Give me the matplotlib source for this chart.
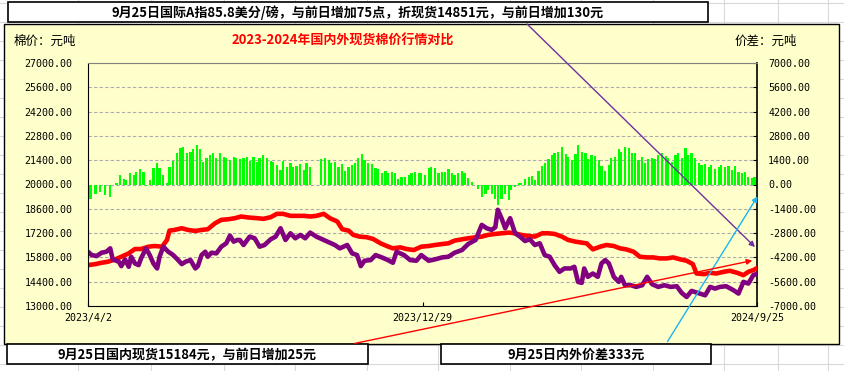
import numpy as np
import pandas as pd
import matplotlib
matplotlib.use("Agg")
import matplotlib.pyplot as plt
from matplotlib.patches import Rectangle, FancyArrowPatch
from matplotlib.lines import Line2D

CJK = ['Noto Sans CJK SC', 'DejaVu Sans']
NUM = 'DejaVu Sans Mono'

START = pd.Timestamp('2023-04-02')

# ---------------- data (day offsets from 2023/4/2) ----------------
# 国内现货 (元/吨)
domestic_days = [0, 6, 11, 16, 22, 27, 33, 38, 43, 49, 54, 60, 64, 66, 70, 76, 81, 87, 92, 97,
                 103, 108, 114, 119, 124, 130,
                 137, 142, 148, 153, 158, 164, 169, 175, 180, 185, 191, 196, 202, 206, 211, 215, 220, 226,
                 231, 237, 242, 247, 253, 258, 264,
                 270, 276, 281, 287, 292, 297, 303, 308, 314, 319, 324, 330, 335, 341, 346, 351, 357, 362,
                 368, 373, 378, 384, 389, 395, 400,
                 404, 409, 415, 420, 426, 431, 436, 442, 447, 453, 458, 463, 469, 474, 480, 485, 490, 493,
                 499, 504, 509, 515, 520, 526, 531, 535, 539, 542]
domestic = [15356, 15414, 15491, 15549, 15684, 15839, 16032, 16283, 16283, 16418, 16457, 16418, 16804, 17345,
            17383, 17480, 17383, 17325, 17383, 17422, 17770, 17963, 18001, 18059, 18156, 18098,
            18059, 18021, 18117, 18310, 18310, 18194, 18194, 18194, 18156, 18194, 18310, 18059, 17866, 17422,
            17345, 17094, 16997, 16959, 16862, 16611, 16457, 16321, 16379, 16283, 16225,
            16418, 16457, 16514, 16572, 16611, 16766, 16843, 16901, 16959, 16997, 17094, 17152, 17190, 17229,
            17190, 17094, 17036, 16997, 17190, 17190, 17152, 16997, 16804, 16708, 16650,
            16611, 16263, 16418, 16514, 16457, 16321, 16263, 16128, 15839, 15800, 15800, 15742, 15742, 15800,
            15684, 15607, 15414, 14873, 14835, 14912, 14873, 14970, 15028, 14912, 14777, 14970, 15066, 15184]

# 国际A指折现货 (元/吨)
intl_days = [0, 3, 7, 11, 15, 18, 20, 25, 27, 30, 33, 35, 38, 41, 43, 47, 50, 53, 56, 58,
             61, 65, 69, 73, 76, 79, 83, 87, 89, 92, 95, 97, 100, 104, 108, 112, 115, 118, 121, 123, 126,
             131, 135, 139, 143, 148, 152, 156, 160, 164, 168, 172, 176, 180, 185, 191, 196, 200, 204, 210, 214,
             218, 221, 224, 229, 233, 238, 243, 247, 250, 256, 261, 266,
             270, 276, 281, 287, 292, 297, 303, 308, 314, 319, 323, 327, 330, 332, 335, 338, 342, 346, 350, 354,
             358, 362, 366, 370, 374, 378, 382, 386, 391, 394, 397, 400,
             402, 405, 409, 413, 416, 419, 422, 426, 430, 432, 435, 440, 444, 449, 453, 457, 462, 467, 472, 477,
             481, 485, 489, 494, 500, 504, 508, 512, 517, 523, 527, 531, 535, 539, 542]
intl = [16128, 15935, 15877, 16070, 16128, 16321, 15684, 15549, 15298, 15684, 15259, 15839, 15452, 15356, 15742,
        16321, 15935, 15452, 15163, 15839, 16418, 16128, 15935, 15646, 15414, 15549, 15646, 15163, 15298, 15935,
        16128, 15839, 16070, 16032, 16418, 16611, 17055, 16708, 16804, 16804, 16514,
        16997, 16901, 16418, 16514, 16843, 16997, 17480, 16804, 17190, 16901, 17094, 16901, 17229, 16997, 16804,
        16650, 16514, 16321, 16514, 16032, 15935, 15298, 15607, 15646, 15935, 15800, 15646, 15491, 16128, 15935,
        15646, 15607,
        15935, 15607, 15684, 15800, 15839, 16070, 16225, 16572, 16804, 17673, 17480, 17383, 17538, 18542, 18059,
        17480, 18059, 17190, 16997, 16746, 16843, 16514, 16611, 15935, 15839, 15356, 14970, 15163, 15163, 15259,
        14390, 14332,
        15163, 14680, 14873, 14680, 15452, 15646, 15452, 14680, 14390, 14680, 14197, 14197, 14101, 14197, 14680,
        14255, 14101, 14197, 14101, 14139, 13753, 13521, 13869, 13753, 13618, 14101, 14004, 14101, 14139, 13908,
        13715, 14390, 14294, 14777, 14851]

# 内外价差 (元/吨)
spread_days = [2, 6, 10, 14, 18, 20, 23, 26, 29, 31, 34, 37, 39, 42, 45, 47, 50, 53, 56, 58,
               61, 64, 66, 69, 72, 75, 77, 80, 83, 85, 88, 91, 93, 96, 99, 101, 104, 107, 110, 112,
               115, 118, 120, 123, 126, 129, 131, 134,
               137, 139, 142, 145, 148, 150, 153, 156, 158, 161, 164, 166, 169, 172, 175, 177, 180,
               189, 192, 195, 197, 200, 203, 206, 208, 211, 214, 216, 219, 222, 224, 227, 230, 233, 235,
               238, 241, 243, 246, 249, 251, 254, 257, 260, 262, 265,
               268, 270, 273, 276, 278, 281, 284, 287, 289, 292, 295, 297, 300, 303, 305, 308, 311, 314,
               316, 319, 322, 324, 327, 330, 332, 335, 338, 341, 343, 346, 349, 351, 354, 357, 360, 362,
               365, 368, 370, 373, 376, 378, 381, 384, 387, 389, 392, 395, 397,
               400, 403, 405, 408, 411, 414, 416, 419, 422, 424, 427, 430, 432, 435, 438, 441, 443, 446,
               449, 451, 454, 457, 459, 462, 465, 468, 470, 473, 476, 478, 481, 484, 486, 489, 492, 495,
               497, 500, 503, 505, 508, 511, 513, 516, 519, 522, 524, 527, 530, 532, 535, 538, 540, 542]
spread = [-811, -521, -425, -618, -714, -30, 97, 541, 290, 251, 676, 541, 695, 869, 734, -97, 251, 927, 1255, 927,
          541, 58, 1023, 1371, 1796, 2085, 2143, 1834, 1892, 2028, 2279, 2028, 1313, 1506, 1699, 1796, 1506, 1834,
          1603, 1506, 1410, 1603, 1506, 1448, 1506, 1603, 1371, 1603,
          1313, 1506, 1699, 1506, 1371, 1313, 1120, 830, 1371, 1023, 1255, 1023, 1062, 1178, 830, 1255, 985,
          1448, 1506, 1410, 1216, 1313, 1023, 1178, 792, 1023, 1120, 1255, 1506, 1757, 1410, 1255, 1178, 927, 869,
          637, 792, 637, 734, 637, 290, 444, 406, 541, 637, 734,
          676, 676, 541, 927, 985, 927, 676, 734, 734, 869, 637, 541, 637, 792, 637, 348, 154, -20,
          -232, -714, -521, -328, -521, -811, -1197, -811, -521, -908, -290, -135, 97, 58, 290, 406, 483, 251,
          792, 1062, 1216, 1448, 1699, 1834, 1892, 2143, 1757, 1603, 1410, 1757, 2279,
          1900, 1796, 1448, 1699, 1641, 1410, 1062, 792, 1120, 1506, 1603, 2028, 1892, 2182, 2085, 1834, 1796, 1410,
          1603, 1216, 1448, 1506, 1448, 1699, 1796, 1641, 1506, 1313, 1699, 1796, 1506, 2085, 1699, 1796, 1506, 1255,
          1120, 1178, 1023, 1120, 869, 985, 1120, 985, 1062, 830, 1062, 734, 676, 734, 444, 348, 406, 333]

left_ticks = [13000, 14400, 15800, 17200, 18600, 20000, 21400, 22800, 24200, 25600, 27000]
right_ticks = [-7000, -5600, -4200, -2800, -1400, 0, 1400, 2800, 4200, 5600, 7000]
date_ticks = ['2023-04-02', '2023-12-29', '2024-09-25']
date_labels = ['2023/4/2', '2023/12/29', '2024/9/25']

top_note = '9月25日国际A指85.8美分/磅，与前日增加75点，折现货14851元，与前日增加130元'
left_note = '9月25日国内现货15184元，与前日增加25元'
right_note = '9月25日内外价差333元'
title = '2023-2024年国内外现货棉价行情对比'

W, H = 845, 371


def fx(x):
    return x / W


def fy(y):
    return 1 - y / H


def to_dates(days):
    return START + pd.to_timedelta(days, unit='D')


fig = plt.figure(figsize=(W / 100, H / 100), dpi=100, facecolor='white')

# excel cell grid behind everything
for gx in [78, 151, 224, 295, 367, 438, 510, 581, 653, 724, 778, 828]:
    fig.add_artist(Line2D([fx(gx), fx(gx)], [0, 1], transform=fig.transFigure,
                          color='#D9D9D9', lw=0.8, zorder=-3))
for gy in range(3, H, 19):
    fig.add_artist(Line2D([0, 1], [fy(gy), fy(gy)], transform=fig.transFigure,
                          color='#D9D9D9', lw=0.8, zorder=-3))

# chart area
fig.add_artist(Rectangle((fx(4), fy(344)), fx(839) - fx(4), fy(24) - fy(344), transform=fig.transFigure,
                         facecolor='#FFFFCC', edgecolor='black', lw=1.0, zorder=-2))

ax = fig.add_axes([fx(88), fy(306), fx(757) - fx(88), fy(63) - fy(306)])
ax2 = ax.twinx()
ax.set_zorder(ax2.get_zorder() + 1)
ax.patch.set_visible(False)
ax2.patch.set_visible(False)

# bars: price spread on right axis
ax2.bar(to_dates(spread_days), spread, width=1.8, color='#00FF00', align='center', lw=0)
ax2.set_ylim(-7000, 7000)
ax2.set_yticks(right_ticks)
ax2.set_yticklabels(['%.2f' % v for v in right_ticks], fontfamily=NUM, fontsize=7.2)
ax2.tick_params(axis='y', direction='in', length=3, pad=8, color='black')
ax2.set_axisbelow(True)
ax2.yaxis.grid(True, linestyle=(0, (3, 2)), color='#ABABAB', lw=0.8)

# lines on left axis
ax.plot(to_dates(domestic_days), domestic, color='#FF0000', lw=3.3, solid_joinstyle='round')
ax.plot(to_dates(intl_days), intl, color='#800080', lw=3.3, solid_joinstyle='round')
ax.set_ylim(13000, 27000)
ax.set_yticks(left_ticks)
ax.set_yticklabels(['%.2f' % v for v in left_ticks], fontfamily=NUM, fontsize=7.2)
ax.tick_params(axis='y', length=0, pad=11)

ax.set_xlim(pd.Timestamp(date_ticks[0]), pd.Timestamp(date_ticks[-1]))
ax.set_xticks([pd.Timestamp(d) for d in date_ticks])
ax.set_xticklabels(date_labels, fontfamily=NUM, fontsize=7.2)
ax.tick_params(axis='x', direction='in', length=3, pad=5)

for s in ['left', 'bottom']:
    ax.spines[s].set_color('black')
ax.spines['right'].set_visible(False)
ax.spines['top'].set_color('#808080')
for s in ['left', 'top', 'bottom']:
    ax2.spines[s].set_visible(False)
ax2.spines['right'].set_color('black')
ax2.spines['right'].set_linewidth(1.2)

# chart texts
fig.text(fx(343), fy(41), title, color='#FF0000', fontsize=9.4, fontweight='bold',
         family=CJK, ha='center', va='center')
fig.text(fx(14), fy(41), '棉价：元吨', fontsize=9, family=CJK, ha='left', va='center')
fig.text(fx(735), fy(41), '价差：元吨', fontsize=9, family=CJK, ha='left', va='center')

# note boxes
boxes = [((8, 2, 708, 22), top_note), ((7, 344, 368, 364), left_note), ((441, 344, 711, 364), right_note)]
for (x0, y0, x1, y1), txt in boxes:
    fig.add_artist(Rectangle((fx(x0), fy(y1)), fx(x1) - fx(x0), fy(y0) - fy(y1), transform=fig.transFigure,
                             facecolor='white', edgecolor='black', lw=1.2, zorder=3))
    fig.text(fx((x0 + x1) / 2), fy((y0 + y1) / 2 + 1), txt, fontsize=9.4, fontweight='bold', family=CJK,
             ha='center', va='center', zorder=4)

# pointer arrows
arrows = [((525, 22), (757, 249), '#7030A0'),
          ((666, 344), (759, 194), '#1EB4F0'),
          ((352, 344), (755, 260), '#FF0000')]
for (xa, ya), (xb, yb), c in arrows:
    fig.add_artist(FancyArrowPatch((fx(xa), fy(ya)), (fx(xb), fy(yb)), transform=fig.transFigure,
                                   arrowstyle='-|>', mutation_scale=8, color=c, lw=1.0, zorder=5))

fig.savefig('out.png', dpi=100, facecolor='white')
